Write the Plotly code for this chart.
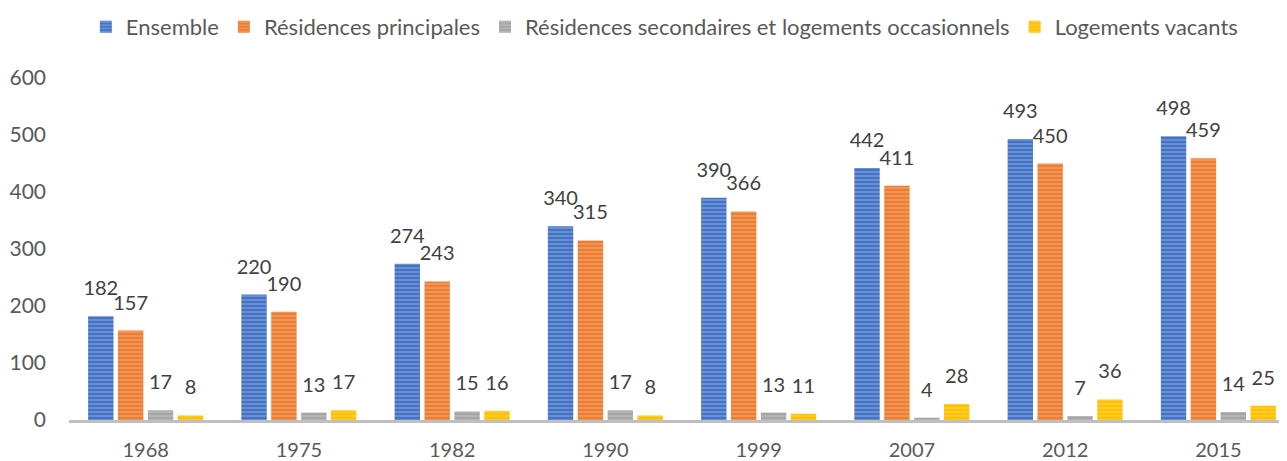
import plotly.graph_objects as go

years = ["1968", "1975", "1982", "1990", "1999", "2007", "2012", "2015"]
ensemble = [182, 220, 274, 340, 390, 442, 493, 498]
principales = [157, 190, 243, 315, 366, 411, 450, 459]
secondaires = [17, 13, 15, 17, 13, 4, 7, 14]
vacants = [8, 17, 16, 8, 11, 28, 36, 25]

series = [
    ("Ensemble", ensemble, "#4472C4", "rgba(190,210,245,0.85)"),
    ("Résidences principales", principales, "#ED7D31", "rgba(250,205,175,0.85)"),
    ("Résidences secondaires et logements occasionnels", secondaires, "#A5A5A5", "rgba(220,220,220,0.85)"),
    ("Logements vacants", vacants, "#FFC000", "rgba(255,230,140,0.85)"),
]

FONT = "Lato"
fig = go.Figure()
for name, vals, col, light in series:
    fig.add_trace(go.Bar(
        name=name, x=years, y=vals, offsetgroup=name,
        marker=dict(color=col, line=dict(width=0),
                    pattern=dict(shape="-", fgcolor=light, size=4, solidity=0.35)),
    ))
for name, vals, col, light in series:
    fig.add_trace(go.Scatter(
        name=name, x=years, y=vals, offsetgroup=name, showlegend=False,
        mode="markers+text", text=[str(v) for v in vals], textposition="top center",
        textfont=dict(family=FONT, size=20, color="#404040"),
        marker=dict(size=24, opacity=0), cliponaxis=False, hoverinfo="skip",
    ))

fig.update_layout(
    width=1287, height=461,
    margin=dict(l=61, r=0, t=70, b=49, autoexpand=False),
    paper_bgcolor="white", plot_bgcolor="white",
    barmode="group", bargap=0.22, bargroupgap=0.15,
    scattermode="group", scattergap=0.22,
    font=dict(family=FONT, size=19, color="#595959"),
    showlegend=True,
    legend=dict(orientation="h", xref="container", x=0.51, xanchor="center",
                y=1 - 19 / 461, yanchor="middle", yref="container",
                font=dict(family=FONT, size=22, color="#595959"),
                itemwidth=30, traceorder="normal"),
    xaxis=dict(type="category", range=[-0.5, 7.5], showline=True, linecolor="#BFBFBF",
               linewidth=3, ticks="", showgrid=False, automargin=False,
               ticklabelstandoff=10, tickfont=dict(size=20, color="#595959")),
    yaxis=dict(range=[0, 600], dtick=100, showgrid=False, zeroline=False, showline=False,
               ticks="", ticklabelstandoff=22, automargin=False,
               tickfont=dict(size=21, color="#595959")),
)
fig.write_html("out.html")
